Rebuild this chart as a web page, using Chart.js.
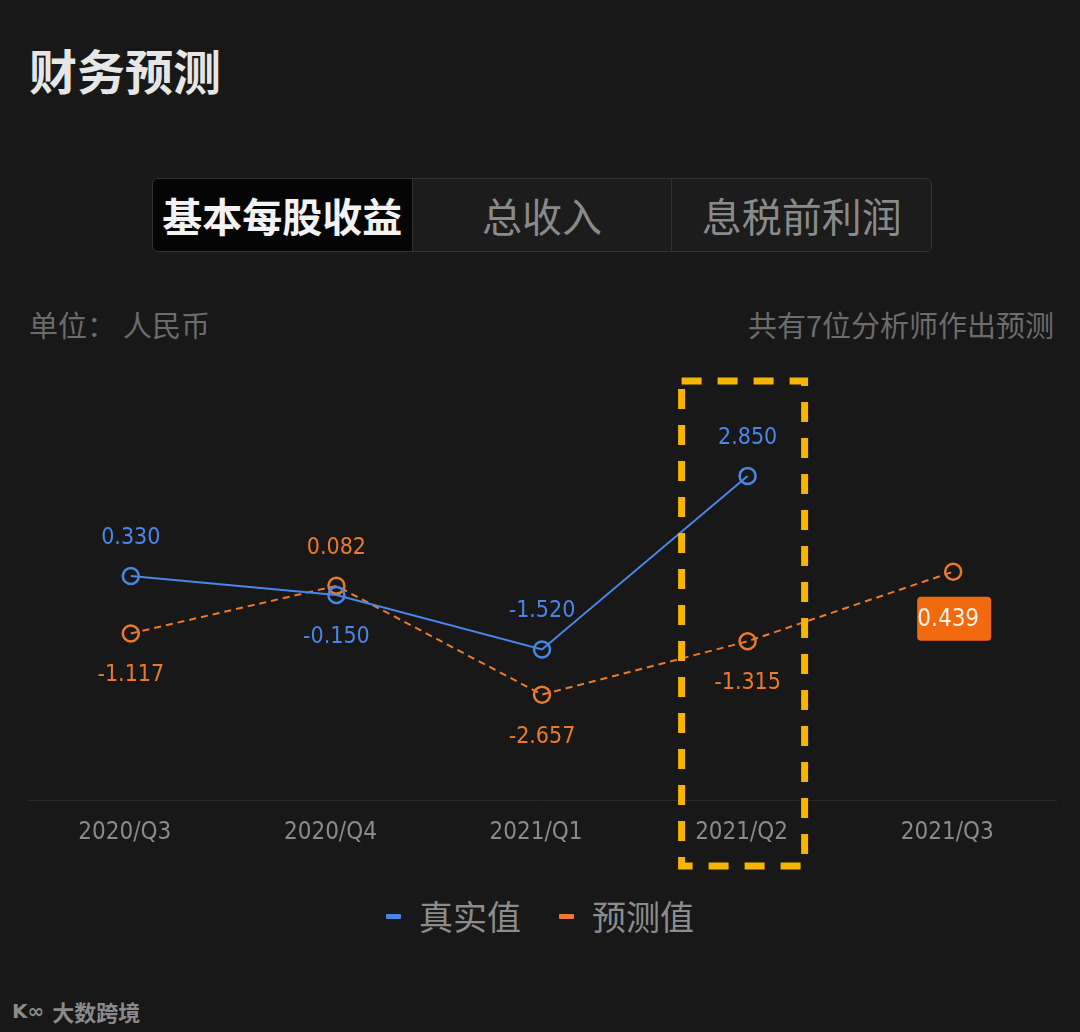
<!DOCTYPE html>
<html>
<head>
<meta charset="utf-8">
<script src="https://cdn.jsdelivr.net/npm/chart.js@4/dist/chart.umd.min.js"></script>
<style>
  html, body { margin:0; padding:0; background:#181818; width:1080px; height:1032px; overflow:hidden; }
  body { position:relative; font-family:"Noto Sans CJK SC","Noto Sans",sans-serif; }
  .abs { position:absolute; line-height:1; white-space:nowrap; }
  #title { left:29px; top:45px; font-size:48px; font-weight:700; color:#e6e6e6; }
  #tabs { left:152px; top:178px; width:778px; height:72px; border:1px solid #333; border-radius:6px; background:#1c1c1c; display:flex; overflow:hidden; }
  .tab { flex:1; display:flex; align-items:center; justify-content:center; font-size:40px; color:#8a8a8a; border-left:1px solid #333; }
  .tab:first-child { border-left:none; background:#050505; color:#f2f2f2; font-weight:700; }
  #unitA { left:29px; top:310px; font-size:29px; color:#6c6c6c; }
  #unitB { left:123px; top:310px; font-size:29px; color:#6c6c6c; }
  #note { right:26px; top:310px; font-size:29px; color:#6c6c6c; }
  #chartWrap { position:absolute; left:0; top:360px; width:1080px; height:520px; }
  #legend { left:0; top:899px; width:1080px; display:flex; justify-content:center; align-items:center; font-size:34px; color:#8c8c8c; }
  .litem { display:flex; align-items:center; margin:0 19px; }
  .sw { width:15px; height:5px; border-radius:1px; margin-right:18px; }
  #wm { left:12px; top:1000px; font-size:22px; color:#8a8a8a; font-weight:700; display:flex; align-items:center; }
</style>
</head>
<body>
<div id="title" class="abs">财务预测</div>
<div id="tabs" class="abs"></div>
<div id="unitA" class="abs">单位：</div>
<div id="unitB" class="abs">人民币</div>
<div id="note" class="abs">共有7位分析师作出预测</div>
<div id="chartWrap"><canvas id="c" width="1080" height="520"></canvas></div>
<div id="legend" class="abs"></div>
<div id="wm" class="abs"><span style="font-family:'DejaVu Sans';font-size:20px;margin-right:8px;">K∞</span>大数跨境</div>

<script>
// ---- data ----
const tabLabels = ["基本每股收益", "总收入", "息税前利润"];
const categories = ["2020/Q3", "2020/Q4", "2021/Q1", "2021/Q2", "2021/Q3"];
const actualLabel = "真实值";
const forecastLabel = "预测值";
const actualValues = [0.330, -0.150, -1.520, 2.850, null];
const forecastValues = [-1.117, 0.082, -2.657, -1.315, 0.439];
const highlightCategory = "2021/Q2";

const BLUE = "#4a86e8";
const ORANGE = "#ec7a2c";

// tabs
const tabs = document.getElementById("tabs");
tabLabels.forEach(t => { const d = document.createElement("div"); d.className = "tab"; d.textContent = t; tabs.appendChild(d); });

// legend
const legend = document.getElementById("legend");
[[actualLabel, BLUE], [forecastLabel, ORANGE]].forEach(([t, c]) => {
  const it = document.createElement("div"); it.className = "litem";
  it.innerHTML = '<span class="sw" style="background:' + c + '"></span><span>' + t + '</span>';
  legend.appendChild(it);
});

const NUM_FONT = '"DejaVu Sans Condensed","Liberation Sans Narrow","Roboto",sans-serif';

const labelPlugin = {
  id: "valueLabels",
  afterDatasetsDraw(chart) {
    const ctx = chart.ctx;
    ctx.save();
    ctx.font = "23px " + NUM_FONT;
    ctx.textAlign = "center";
    ctx.textBaseline = "middle";
    const all = chart.data.datasets.map(ds => ds.data);
    chart.data.datasets.forEach((ds, di) => {
      const meta = chart.getDatasetMeta(di);
      ds.data.forEach((v, i) => {
        if (v === null || v === undefined) return;
        const pt = meta.data[i];
        const other = all[1 - di][i];
        const txt = v.toFixed(3);
        if (other === null || other === undefined) {
          const w = 74, h = 44;
          const bx = pt.x - w / 2 + 1, by = pt.y + 25;
          ctx.fillStyle = "#f26a0f";
          ctx.beginPath();
          ctx.roundRect(bx, by, w, h, 4);
          ctx.fill();
          ctx.fillStyle = "#fff3e8";
          ctx.font = "24px " + NUM_FONT;
          ctx.fillText(txt, pt.x - 5, by + h / 2 + 1);
          ctx.font = "23px " + NUM_FONT;
          return;
        }
        const above = v >= other;
        ctx.fillStyle = ds.borderColor;
        ctx.fillText(txt, pt.x, pt.y + (above ? -40 : 40) + 2);
      });
    });
    ctx.restore();
  }
};

const boxPlugin = {
  id: "highlightBox",
  afterDraw(chart) {
    const x = chart.scales.x;
    const idx = categories.indexOf(highlightCategory);
    if (idx < 0) return;
    const cx = x.getPixelForValue(idx);
    const ctx = chart.ctx;
    ctx.save();
    ctx.strokeStyle = "#f7b500";
    ctx.lineWidth = 7;
    ctx.setLineDash([20, 16]);
    const l = cx - 66, r = cx + 57, t = chart.chartArea.top + 2, b = chart.chartArea.bottom + 66;
    ctx.strokeRect(l, t, r - l, b - t);
    ctx.restore();
  }
};

new Chart(document.getElementById("c"), {
  type: "line",
  data: {
    labels: categories,
    datasets: [
      {
        label: actualLabel,
        data: actualValues,
        borderColor: BLUE,
        borderWidth: 2,
        pointRadius: 8,
        pointBorderWidth: 2.5,
        pointBackgroundColor: "rgba(0,0,0,0)",
        pointBorderColor: BLUE,
        tension: 0,
        spanGaps: false,
        order: 1
      },
      {
        label: forecastLabel,
        data: forecastValues,
        borderColor: ORANGE,
        borderWidth: 2,
        borderDash: [7, 5],
        pointRadius: 8,
        pointBorderWidth: 2.5,
        pointBackgroundColor: "rgba(0,0,0,0)",
        pointBorderColor: ORANGE,
        tension: 0,
        order: 2
      }
    ]
  },
  options: {
    responsive: false,
    animation: false,
    devicePixelRatio: 1,
    layout: { padding: { left: 28, right: 24, top: 19, bottom: 0 } },
    plugins: { legend: { display: false }, tooltip: { enabled: false } },
    scales: {
      x: {
        offset: true,
        grid: { display: false, drawTicks: false },
        border: { display: true, color: "#2a2a2a", width: 1 },
        ticks: { color: "#8a8a8a", font: { family: NUM_FONT, size: 24 }, padding: 18, labelOffset: -6, maxRotation: 0 },
        afterFit(s) { s.height = 80; }
      },
      y: {
        display: false,
        min: -5.31,
        max: 5.29
      }
    }
  },
  plugins: [labelPlugin, boxPlugin]
});
</script>
</body>
</html>
